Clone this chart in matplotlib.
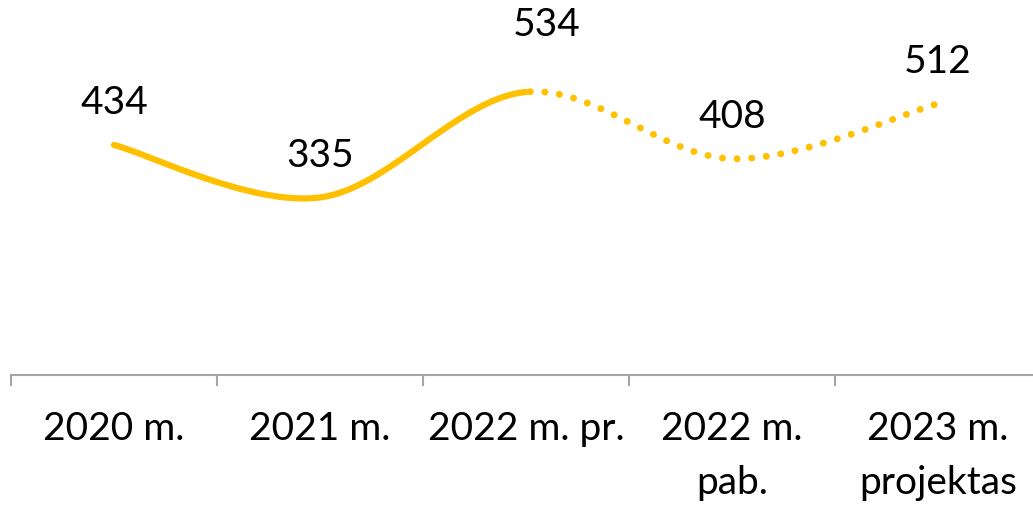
import numpy as np
import matplotlib
matplotlib.use("Agg")
import matplotlib.pyplot as plt

categories = ["2020 m.", "2021 m.", "2022 m. pr.", "2022 m.\npab.", "2023 m.\nprojektas"]
values = [434, 335, 534, 408, 512]
color = "#FFC000"

plt.rcParams['font.family'] = ['Lato', 'DejaVu Sans']


def smooth(xs, ys, n=60):
    # bezier smoothing like the spreadsheet line (control points at 1/6)
    px, py = [], []
    m = len(xs)
    for i in range(m - 1):
        x0, y0 = xs[max(i - 1, 0)], ys[max(i - 1, 0)]
        x1, y1 = xs[i], ys[i]
        x2, y2 = xs[i + 1], ys[i + 1]
        x3, y3 = xs[min(i + 2, m - 1)], ys[min(i + 2, m - 1)]
        c1x, c1y = x1 + (x2 - x0) / 6, y1 + (y2 - y0) / 6
        c2x, c2y = x2 - (x3 - x1) / 6, y2 - (y3 - y1) / 6
        t = np.linspace(0, 1, n)
        bx = (1 - t) ** 3 * x1 + 3 * (1 - t) ** 2 * t * c1x + 3 * (1 - t) * t ** 2 * c2x + t ** 3 * x2
        by = (1 - t) ** 3 * y1 + 3 * (1 - t) ** 2 * t * c1y + 3 * (1 - t) * t ** 2 * c2y + t ** 3 * y2
        px.append(bx)
        py.append(by)
    return px, py


fig = plt.figure(figsize=(10.33, 5.05), dpi=100)
# plot area runs a little past the right edge, like the original
ax = fig.add_axes([11 / 1033, 1 - 375 / 505, 1030 / 1033, 371 / 505])

x = np.arange(len(values))
segx, segy = smooth(x, values)
solid_x = np.concatenate(segx[:2])
solid_y = np.concatenate(segy[:2])
dot_x = np.concatenate(segx[2:])
dot_y = np.concatenate(segy[2:])
ax.plot(solid_x, solid_y, color=color, lw=4.5, solid_capstyle='round')
ax.plot(dot_x, dot_y, color=color, lw=5, linestyle=(1.5, (0.01, 2.1)), dash_capstyle='round')

# label offsets in points (the 534 label sits higher and a bit right)
label_dx = [0, 0, 15, 0, 0]
label_dy = [30, 30, 48, 30, 30]
for i, v in enumerate(values):
    ax.annotate(str(v), (x[i], v), xytext=(label_dx[i], label_dy[i]), textcoords='offset points',
                ha='center', va='center', fontsize=28)

ax.set_xlim(-0.5, len(values) - 0.5)
ax.set_ylim(0, 700)
ax.set_xticks(np.arange(-0.5, len(values), 1))
ax.set_xticklabels([])
ax.set_xticks(x, minor=True)
ax.set_xticklabels(categories, minor=True, fontsize=28, linespacing=1.6, va='top')
ax.tick_params(axis='x', which='major', length=8, color='#A6A6A6', width=1.5)
ax.tick_params(axis='x', which='minor', length=0, pad=26)
ax.set_yticks([])
for s in ['top', 'right', 'left']:
    ax.spines[s].set_visible(False)
ax.spines['bottom'].set_color('#A6A6A6')
ax.spines['bottom'].set_linewidth(1.5)

fig.savefig("out.png", dpi=100)
